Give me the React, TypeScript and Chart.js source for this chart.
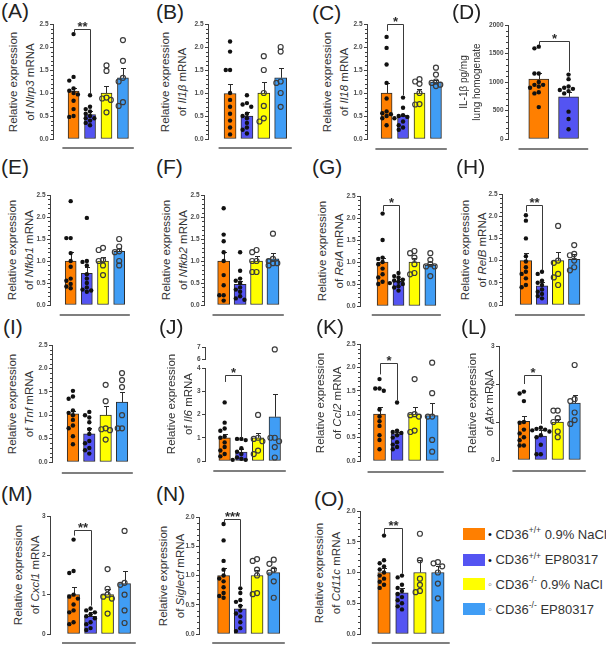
import React, { useEffect, useRef } from 'react';
import { Chart, registerables } from 'chart.js';
Chart.register(...registerables);

const FONT = '"Liberation Sans", Arial, Helvetica, sans-serif';
Chart.defaults.font.family = FONT;

// ---------- groups ----------
const groupLabels = ['CD36+/+ 0.9% NaCl', 'CD36+/+ EP80317', 'CD36-/- 0.9% NaCl', 'CD36-/- EP80317'];
const groupColors = ['#FF7F00', '#5454F2', '#FFFF00', '#409DF5'];

// ---------- (A) Nlrp3 ----------
const nlrp3Means = [1.04, 0.53, 1.0, 1.33];
const nlrp3ErrTop = [1.11, 0.6, 1.15, 1.55];
const nlrp3Points = [
  [2.28, 1.35, 1.27, 1.1, 1.05, 1.0, 0.97, 0.83, 0.65, 0.5, 0.48],
  [0.95, 0.7, 0.65, 0.6, 0.55, 0.5, 0.45, 0.45, 0.4, 0.35, 0.3],
  [1.6, 1.48, 0.9, 0.88, 0.85, 0.58],
  [2.15, 1.7, 1.33, 1.25, 0.8, 0.72],
];
const nlrp3Sig = [2.4, 2.3, 1.0];

// ---------- (B) Il1b ----------
const il1bMeans = [0.99, 0.5, 1.0, 1.33];
const il1bErrTop = [1.2, 0.58, 1.23, 1.55];
const il1bPoints = [
  [2.12, 1.9, 1.5, 1.5, 1.0, 0.85, 0.7, 0.55, 0.4, 0.25, 0.1],
  [0.95, 0.78, 0.75, 0.7, 0.55, 0.5, 0.45, 0.35, 0.25, 0.2, 0.12],
  [1.8, 1.5, 1.0, 0.72, 0.45, 0.38],
  [2.0, 1.9, 1.25, 1.22, 1.0, 0.7],
];

// ---------- (C) Il18 ----------
const il18Means = [1.0, 0.5, 1.0, 1.24];
const il18ErrTop = [1.22, 0.53, 1.08, 1.29];
const il18Points = [
  [2.22, 1.98, 1.62, 1.22, 0.88, 0.6, 0.56, 0.54, 0.5, 0.45, 0.3],
  [0.9, 0.68, 0.52, 0.5, 0.48, 0.45, 0.38, 0.3, 0.25, 0.2],
  [1.3, 1.25, 1.2, 1.0, 0.76, 0.75],
  [1.55, 1.4, 1.25, 1.22, 1.18, 1.15],
];
const il18Sig = [2.5, 2.35, 0.95];

// ---------- (D) IL-1beta protein ----------
const il1bProtMeans = [1050, 740];
const il1bProtErrTop = [1150, 820];
const il1bProtPoints = [
  [1620, 1590, 1150, 1150, 1000, 950, 950, 920, 900, 820, 800, 560],
  [1130, 1050, 920, 900, 880, 860, 840, 800, 480, 350, 170],
];
const il1bProtSig = [1720, 1650, 1180];

// ---------- (E) Nfkb1 ----------
const nfkb1Means = [1.0, 0.72, 1.0, 1.22];
const nfkb1ErrTop = [1.2, 0.87, 1.1, 1.3];
const nfkb1Points = [
  [2.36, 1.52, 1.52, 1.18, 1.0, 0.87, 0.6, 0.55, 0.48, 0.42, 0.38],
  [1.98, 1.0, 0.98, 0.9, 0.7, 0.6, 0.5, 0.4, 0.35, 0.33, 0.3],
  [1.3, 1.25, 1.02, 1.0, 0.9, 0.68],
  [1.5, 1.33, 1.22, 1.2, 1.0, 0.9],
];

// ---------- (F) Nfkb2 ----------
const nfkb2Means = [1.0, 0.47, 1.0, 1.05];
const nfkb2ErrTop = [1.2, 0.55, 1.12, 1.18];
const nfkb2Points = [
  [2.2, 1.6, 1.45, 1.2, 1.0, 0.68, 0.45, 0.22, 0.22, 0.1],
  [1.2, 0.78, 0.6, 0.55, 0.5, 0.4, 0.35, 0.3, 0.2, 0.15, 0.12],
  [1.25, 1.2, 1.0, 1.0, 0.75, 0.75],
  [1.62, 1.05, 1.0, 0.95, 0.95, 0.9],
];

// ---------- (G) RelA ----------
const relaMeans = [1.0, 0.56, 1.0, 0.93];
const relaErrTop = [1.08, 0.62, 1.08, 0.96];
const relaPoints = [
  [2.1, 1.5, 1.1, 1.07, 1.0, 0.95, 0.85, 0.72, 0.65, 0.55, 0.5],
  [0.75, 0.68, 0.65, 0.6, 0.58, 0.55, 0.52, 0.5, 0.45, 0.42, 0.35],
  [1.25, 1.2, 1.1, 0.95, 0.75, 0.72],
  [1.2, 1.05, 0.95, 0.9, 0.9, 0.68],
];
const relaSig = [2.3, 2.15, 0.78];

// ---------- (H) RelB ----------
const relbMeans = [1.0, 0.43, 1.0, 1.03];
const relbErrTop = [1.18, 0.52, 1.2, 1.15];
const relbPoints = [
  [2.02, 1.9, 1.5, 1.1, 0.98, 0.85, 0.75, 0.7, 0.6, 0.45, 0.4],
  [0.75, 0.7, 0.55, 0.5, 0.45, 0.35, 0.3, 0.25, 0.2, 0.15],
  [1.78, 1.0, 0.95, 0.7, 0.62, 0.45],
  [1.35, 1.15, 1.12, 1.0, 0.85, 0.78],
];
const relbSig = [2.25, 2.1, 0.78];

// ---------- (I) Tnf ----------
const tnfMeans = [1.03, 0.6, 1.0, 1.28];
const tnfErrTop = [1.1, 0.72, 1.2, 1.5];
const tnfPoints = [
  [1.52, 1.4, 1.35, 1.1, 1.05, 1.0, 0.9, 0.78, 0.72, 0.55, 0.38],
  [1.07, 1.0, 0.95, 0.85, 0.7, 0.6, 0.45, 0.4, 0.3, 0.25, 0.18],
  [1.65, 1.3, 0.72, 0.7, 0.68, 0.48],
  [1.9, 1.75, 1.6, 1.0, 0.72, 0.72],
];

// ---------- (J) Il6 (broken axis) ----------
const il6Means = [1.0, 0.38, 1.0, 1.9];
const il6ErrTop = [1.15, 0.5, 1.2, 2.9];
const il6Points = [
  [2.52, 1.65, 1.4, 1.3, 1.05, 1.0, 0.8, 0.6, 0.45, 0.3, 0.2],
  [0.95, 0.95, 0.9, 0.55, 0.4, 0.3, 0.15, 0.1, 0.05, 0.05],
  [1.98, 1.0, 0.95, 0.85, 0.45, 0.3],
  [6.8, 1.0, 1.0, 0.85, 0.6, 0.15],
];
const il6Sig = [3.7, 3.4, 1.0];

// ---------- (K) Ccl2 ----------
const ccl2Means = [1.0, 0.58, 1.0, 0.97];
const ccl2ErrTop = [1.15, 0.63, 1.15, 1.25];
const ccl2Points = [
  [1.75, 1.55, 1.55, 1.5, 1.1, 0.95, 0.85, 0.75, 0.55, 0.45, 0.25],
  [1.25, 0.65, 0.62, 0.6, 0.55, 0.5, 0.4, 0.35, 0.3, 0.25],
  [1.75, 1.0, 0.98, 0.95, 0.65, 0.62],
  [2.1, 1.45, 0.95, 0.95, 0.45, 0.2],
];
const ccl2Sig = [2.1, 1.85, 1.3];

// ---------- (L) Atx ----------
const atxMeans = [1.02, 0.63, 1.0, 1.5];
const atxErrTop = [1.15, 0.8, 1.08, 1.72];
const atxPoints = [
  [1.8, 1.75, 1.55, 1.0, 0.98, 0.8, 0.7, 0.6, 0.52, 0.38, 0.38],
  [0.85, 0.82, 0.8, 0.78, 0.75, 0.65, 0.6, 0.4, 0.15, 0.15],
  [1.3, 1.3, 1.1, 1.0, 0.75, 0.6],
  [2.5, 1.6, 1.55, 1.25, 1.05, 0.95],
];
const atxSig = [2.25, 2.0, 0.95];

// ---------- (M) Cxcl1 ----------
const cxcl1Means = [1.0, 0.45, 1.0, 1.28];
const cxcl1ErrTop = [1.2, 0.55, 1.15, 1.6];
const cxcl1Points = [
  [2.4, 1.6, 1.55, 1.0, 0.95, 0.9, 0.75, 0.6, 0.55, 0.3, 0.25],
  [0.65, 0.6, 0.55, 0.5, 0.45, 0.4, 0.3, 0.25, 0.15, 0.1],
  [1.65, 1.15, 1.0, 0.95, 0.9, 0.52],
  [2.62, 1.3, 1.25, 1.0, 0.6, 0.28],
];
const cxcl1Sig = [2.65, 2.5, 0.72];

// ---------- (N) Siglecf ----------
const siglecfMeans = [1.0, 0.43, 1.0, 1.05];
const siglecfErrTop = [1.12, 0.5, 1.1, 1.12];
const siglecfPoints = [
  [1.88, 1.6, 1.25, 1.1, 1.0, 0.95, 0.9, 0.8, 0.7, 0.65, 0.62],
  [0.78, 0.7, 0.58, 0.55, 0.48, 0.4, 0.35, 0.3, 0.2, 0.1, 0.05],
  [1.28, 1.25, 1.1, 1.0, 0.7, 0.68],
  [1.27, 1.2, 1.1, 1.05, 0.9, 0.62],
];
const siglecfSig = [1.97, 1.9, 0.8];

// ---------- (O) Cd11c ----------
const cd11cMeans = [1.0, 0.67, 1.0, 1.0];
const cd11cErrTop = [1.07, 0.75, 1.2, 1.1];
const cd11cPoints = [
  [1.6, 1.2, 1.15, 1.1, 1.05, 1.0, 0.95, 0.9, 0.85, 0.8, 0.75],
  [0.95, 0.92, 0.8, 0.75, 0.7, 0.65, 0.6, 0.55, 0.5, 0.45, 0.4],
  [1.63, 1.2, 0.9, 0.8, 0.7, 0.68],
  [1.17, 1.15, 1.1, 1.0, 0.82, 0.58],
];
const cd11cSig = [1.72, 1.62, 0.98];

// ---------- layout ----------
const AW = 26, PT = 26, PB = 16;

type Cfg = any;

const panels: Cfg[] = [
  { letter: '(A)', lx: 2, ly: 2, gene: 'Nlrp3', ax: 53, yTop: 24, y0: 139, c0: 74, s: 16.8, bw: 11, gap: 9, tx: 20.5, max: 2.5, step: 0.5, minor: 0.1, dec: 1, means: nlrp3Means, err: nlrp3ErrTop, pts: nlrp3Points, sig: nlrp3Sig, stars: '**' },
  { letter: '(B)', lx: 157, ly: 3, gene: 'Il1β', ax: 208, yTop: 24, y0: 139, c0: 230.5, s: 17.2, bw: 12, gap: 9, tx: 172.5, max: 2.5, step: 0.5, minor: 0.1, dec: 1, means: il1bMeans, err: il1bErrTop, pts: il1bPoints },
  { letter: '(C)', lx: 313, ly: 4, gene: 'Il18', ax: 367, yTop: 24, y0: 139, c0: 387, s: 16.8, bw: 11, gap: 10, tx: 334.5, max: 2.5, step: 0.5, minor: 0.1, dec: 1, means: il18Means, err: il18ErrTop, pts: il18Points, sig: il18Sig, stars: '*' },
  { letter: '(D)', lx: 453, ly: 3, custom: ['IL-1β pg/mg', 'lung homogenate'], ts: 10, lh: 13, ax: 508, yTop: 25, y0: 139, c0: 539, s: 30, bw: 20, gap: 10, tx: 469.5, max: 2000, step: 500, minor: 100, dec: 0, means: il1bProtMeans, err: il1bProtErrTop, pts: il1bProtPoints, sig: il1bProtSig, stars: '*' },
  { letter: '(E)', lx: 2, ly: 158, gene: 'Nfkb1', ax: 50, yTop: 195, y0: 305, c0: 71, s: 16.4, bw: 11, gap: 10, tx: 19.5, max: 2.5, step: 0.5, minor: 0.1, dec: 1, means: nfkb1Means, err: nfkb1ErrTop, pts: nfkb1Points },
  { letter: '(F)', lx: 157, ly: 158, gene: 'Nfkb2', ax: 204, yTop: 195, y0: 305, c0: 224, s: 16.7, bw: 12, gap: 10, tx: 174, max: 2.5, step: 0.5, minor: 0.1, dec: 1, means: nfkb2Means, err: nfkb2ErrTop, pts: nfkb2Points },
  { letter: '(G)', lx: 313, ly: 158, gene: 'RelA', ax: 360, yTop: 196, y0: 306, c0: 383, s: 16.2, bw: 11, gap: 9, tx: 329.5, max: 2.5, step: 0.5, minor: 0.1, dec: 1, means: relaMeans, err: relaErrTop, pts: relaPoints, sig: relaSig, stars: '*' },
  { letter: '(H)', lx: 457, ly: 158, gene: 'RelB', ax: 502, yTop: 194, y0: 305, c0: 526.5, s: 16.5, bw: 11.5, gap: 10, tx: 472.5, max: 2.5, step: 0.5, minor: 0.1, dec: 1, means: relbMeans, err: relbErrTop, pts: relbPoints, sig: relbSig, stars: '**' },
  { letter: '(I)', lx: 4, ly: 318, gene: 'Tnf', ax: 52, yTop: 345, y0: 462, c0: 73.5, s: 16.8, bw: 11.5, gap: 11, tx: 19.5, max: 2.5, step: 0.5, minor: 0.1, dec: 1, means: tnfMeans, err: tnfErrTop, pts: tnfPoints },
  { letter: '(J)', lx: 160, ly: 318, gene: 'Il6', ax: 205, yTop: 347, y0: 461, c0: 225, s: 17, bw: 11.5, gap: 10, tx: 179, max: 4, step: 1, minor: 0, dec: 0, broken: { lower: 93, gapW: 9, upper: 12, upMin: 6, upMax: 7 }, means: il6Means, err: il6ErrTop, pts: il6Points, sig: il6Sig, stars: '*' },
  { letter: '(K)', lx: 317, ly: 318, gene: 'Ccl2', ax: 360, yTop: 344, y0: 461, c0: 380, s: 18, bw: 12, gap: 11, tx: 327.5, max: 2.5, step: 0.5, minor: 0.1, dec: 1, means: ccl2Means, err: ccl2ErrTop, pts: ccl2Points, sig: ccl2Sig, stars: '*' },
  { letter: '(L)', lx: 462, ly: 318, gene: 'Atx', ax: 499, yTop: 346, y0: 460, c0: 524.5, s: 17.3, bw: 11.5, gap: 11, tx: 479.5, max: 3, step: 1, minor: 0, dec: 0, means: atxMeans, err: atxErrTop, pts: atxPoints, sig: atxSig, stars: '*' },
  { letter: '(M)', lx: 2, ly: 485, gene: 'Cxcl1', ax: 50, yTop: 516, y0: 634, c0: 74, s: 17.3, bw: 12, gap: 9, tx: 26, max: 3, step: 1, minor: 0, dec: 0, means: cxcl1Means, err: cxcl1ErrTop, pts: cxcl1Points, sig: cxcl1Sig, stars: '**' },
  { letter: '(N)', lx: 157, ly: 485, gene: 'Siglecf', ax: 199, yTop: 517, y0: 634, c0: 224, s: 17, bw: 12, gap: 9, tx: 170.5, max: 2, step: 0.5, minor: 0.1, dec: 1, means: siglecfMeans, err: siglecfErrTop, pts: siglecfPoints, sig: siglecfSig, stars: '***' },
  { letter: '(O)', lx: 315, ly: 490, gene: 'Cd11c', ax: 360, yTop: 511, y0: 634, c0: 384.5, s: 18.3, bw: 12.5, gap: 9, tx: 327, max: 2, step: 0.5, minor: 0.1, dec: 1, means: cd11cMeans, err: cd11cErrTop, pts: cd11cPoints, sig: cd11cSig, stars: '**' },
];

// simple beeswarm: horizontal spread for points that would overlap (layout only)
function swarm(vals: number[], pxPerUnit: number, s: number) {
  const order = vals.map((v, i) => [v, i]).sort((a, b) => b[0] - a[0]);
  const d = 4.4;
  const cands = [0, -1, 1, -2, 2, -0.5, 0.5, -1.5, 1.5, -2.5, 2.5];
  const placed: { x: number; y: number }[] = [];
  const res: number[] = new Array(vals.length).fill(0);
  for (const [v, i] of order) {
    const yp = v * pxPerUnit;
    let chosen = cands[cands.length - 1] * d;
    for (const c of cands) {
      const xp = c * d;
      if (placed.every((p) => Math.hypot(p.x - xp, p.y - yp) >= d - 0.01)) { chosen = xp; break; }
    }
    placed.push({ x: chosen, y: yp });
    res[i] = chosen / s;
  }
  return res;
}

function yScale(min: number, max: number, step: number, dec: number, extra: any = {}) {
  return {
    type: 'linear', position: 'left', min, max,
    border: { display: true, color: '#404040', width: 1 },
    grid: { display: true, drawOnChartArea: false, drawTicks: true, tickLength: 3, tickColor: '#404040', tickWidth: 1 },
    ticks: {
      stepSize: step, autoSkip: false, padding: 1.5, color: '#4a4a4a',
      font: { size: 6.5, weight: 'bold', family: FONT },
      callback: (v: any) => Number(v).toFixed(dec),
    },
    afterFit: (sc: any) => { sc.width = AW; },
    ...extra,
  };
}

function Panel({ c }: { c: Cfg }) {
  const ref = useRef<HTMLCanvasElement>(null);
  const n = c.means.length;
  const xmin = -(c.c0 - c.ax) / c.s;
  const xmax = n - 1 + 0.72;
  const areaW = (xmax - xmin) * c.s;
  const W = Math.ceil(AW + areaW + 3);
  const padR = W - AW - areaW;
  const H = PT + (c.y0 - c.yTop) + PB;
  const left = c.ax - AW;
  const top = c.yTop - PT;

  useEffect(() => {
    const br = c.broken;
    const lowerPx = br ? br.lower : c.y0 - c.yTop;
    const pxPerUnit = lowerPx / c.max;
    const datasets: any[] = [
      {
        type: 'bar', xAxisID: 'x', yAxisID: 'y', order: 3,
        data: c.means.map((m: number, i: number) => ({ x: i, y: m })),
        backgroundColor: groupColors.slice(0, n),
        borderColor: '#2b2b2b', borderWidth: 1, borderSkipped: false,
        barThickness: c.bw,
      },
    ];
    c.pts.forEach((vals: number[], gi: number) => {
      const low = br ? vals.filter((v) => v <= c.max) : vals;
      const high = br ? vals.filter((v) => v > c.max) : [];
      const offs = swarm(low, pxPerUnit, c.s);
      const style = gi < 2
        ? { pointRadius: 2.2, pointBackgroundColor: '#111', pointBorderColor: '#111', pointBorderWidth: 0 }
        : { pointRadius: 2.5, pointBackgroundColor: 'rgba(255,255,255,0)', pointBorderColor: '#3c3c3c', pointBorderWidth: 1.2 };
      datasets.push({
        type: 'scatter', xAxisID: 'x', yAxisID: 'y', order: 1, clip: false,
        data: low.map((v, k) => ({ x: gi + offs[k], y: v })), ...style,
      });
      if (high.length) {
        datasets.push({
          type: 'scatter', xAxisID: 'x', yAxisID: 'yUp', order: 1, clip: false,
          data: high.map((v) => ({ x: gi, y: v })), ...style,
        });
      }
    });

    const scales: any = { x: { type: 'linear', min: xmin, max: xmax, display: false, offset: false } };
    if (br) {
      scales.y = yScale(0, c.max, c.step, c.dec, { stack: 'brk', stackWeight: br.lower });
      scales.yGap = {
        type: 'linear', position: 'left', stack: 'brk', stackWeight: br.gapW, display: true,
        border: { display: false }, grid: { display: false }, ticks: { display: false },
        afterFit: (sc: any) => { sc.width = AW; },
      };
      scales.yUp = yScale(br.upMin, br.upMax, 1, 0, { stack: 'brk', stackWeight: br.upper });
    } else {
      scales.y = yScale(0, c.max, c.step, c.dec);
    }

    const deco = {
      id: 'deco',
      afterDatasetDraw(chart: any, args: any) {
        if (args.index !== 0) return;
        const ctx = chart.ctx, xs = chart.scales.x, ys = chart.scales.y;
        ctx.save();
        ctx.strokeStyle = '#2b2b2b';
        ctx.lineWidth = 1;
        c.means.forEach((m: number, i: number) => {
          const px = Math.round(xs.getPixelForValue(i)) + 0.5;
          const yb = ys.getPixelForValue(m);
          const yt = Math.round(ys.getPixelForValue(c.err[i])) + 0.5;
          ctx.beginPath();
          ctx.moveTo(px, yb); ctx.lineTo(px, yt);
          ctx.moveTo(px - 2.5, yt); ctx.lineTo(px + 2.5, yt);
          ctx.stroke();
        });
        ctx.restore();
      },
      afterDraw(chart: any) {
        const ctx = chart.ctx, xs = chart.scales.x, ys = chart.scales.y, ca = chart.chartArea;
        ctx.save();
        if (c.minor) {
          ctx.strokeStyle = '#404040';
          ctx.lineWidth = 1;
          const cnt = Math.round(c.max / c.minor);
          for (let k = 1; k < cnt; k++) {
            const v = k * c.minor;
            const r = v / c.step;
            if (Math.abs(r - Math.round(r)) < 1e-6) continue;
            const py = Math.round(ys.getPixelForValue(v)) + 0.5;
            ctx.beginPath();
            ctx.moveTo(ca.left - 2, py); ctx.lineTo(ca.left, py);
            ctx.stroke();
          }
        }
        ctx.strokeStyle = '#555';
        ctx.lineWidth = 1.6;
        const ly = Math.round(ys.getPixelForValue(0)) + c.gap;
        ctx.beginPath();
        ctx.moveTo(xs.getPixelForValue(-0.68), ly);
        ctx.lineTo(xs.getPixelForValue(n - 1 + 0.66), ly);
        ctx.stroke();
        if (c.sig) {
          const [yb, yl, yr] = c.sig;
          const x0 = Math.round(xs.getPixelForValue(0)) + 0.5;
          const x1 = Math.round(xs.getPixelForValue(1)) + 0.5;
          const pyb = Math.round(ys.getPixelForValue(yb)) + 0.5;
          ctx.strokeStyle = '#3a3a3a';
          ctx.lineWidth = 1;
          ctx.beginPath();
          ctx.moveTo(x0, ys.getPixelForValue(yl));
          ctx.lineTo(x0, pyb);
          ctx.lineTo(x1, pyb);
          ctx.lineTo(x1, ys.getPixelForValue(yr));
          ctx.stroke();
          ctx.fillStyle = '#2b2b2b';
          ctx.font = 'bold 13px ' + FONT;
          ctx.textAlign = 'center';
          ctx.textBaseline = 'alphabetic';
          ctx.fillText(c.stars, (x0 + x1) / 2, pyb + 1);
        }
        ctx.restore();
      },
    };

    const chart = new Chart(ref.current as HTMLCanvasElement, {
      type: 'bar',
      data: { datasets },
      options: {
        animation: false,
        responsive: false,
        devicePixelRatio: 1,
        events: [],
        layout: { padding: { top: PT, bottom: PB, left: 0, right: padR } },
        plugins: { legend: { display: false }, tooltip: { enabled: false } },
        scales,
      } as any,
      plugins: [deco as any],
    } as any);
    return () => chart.destroy();
  }, []);

  const ts = c.ts || 11.5;
  const lh = c.lh || 16.5;
  const line1 = c.custom ? c.custom[0] : 'Relative expression';
  const line2 = c.custom ? c.custom[1] : (<>of <i>{c.gene}</i> mRNA</>);

  return (
    <>
      <div style={{ position: 'absolute', left: c.lx - 1, top: c.ly - 2.5, fontSize: 21, lineHeight: '21px', color: '#222', fontFamily: FONT, whiteSpace: 'nowrap' }}>{c.letter}</div>
      <div style={{ position: 'absolute', left: c.tx, top: (c.yTop + c.y0) / 2, transform: 'translate(-50%, -50%) rotate(-90deg)', fontSize: ts, lineHeight: lh + 'px', textAlign: 'center', whiteSpace: 'nowrap', color: '#333', fontFamily: FONT }}>
        <div>{line1}</div>
        <div>{line2}</div>
      </div>
      <canvas ref={ref} width={W} height={H} style={{ position: 'absolute', left, top, width: W, height: H }} />
    </>
  );
}

const legendRows = [
  { bullet: '•', bc: '#111', sup: '+/+', rest: ' 0.9% NaCl' },
  { bullet: '•', bc: '#111', sup: '+/+', rest: ' EP80317' },
  { bullet: '◦', bc: '#777', sup: '-/-', rest: ' 0.9% NaCl' },
  { bullet: '◦', bc: '#777', sup: '-/-', rest: ' EP80317' },
];
const legendCenters = [534, 559.5, 584, 609];

export default function App() {
  return (
    <div style={{ position: 'fixed', left: 0, top: 0, width: 606, height: 646, overflow: 'hidden', background: '#fff', fontFamily: FONT }}>
      {panels.map((p) => <Panel key={p.letter} c={p} />)}
      {legendRows.map((r, i) => (
        <div key={i} title={groupLabels[i]} style={{ position: 'absolute', left: 463, top: legendCenters[i] - 9, height: 18, display: 'flex', alignItems: 'center', whiteSpace: 'nowrap', fontSize: 13, color: '#333' }}>
          <span style={{ display: 'inline-block', width: 22, height: 12, background: groupColors[i], marginRight: 3 }} />
          <span style={{ color: r.bc, fontSize: 11 }}>{r.bullet}</span>
          <span>&nbsp;CD36<span style={{ fontSize: 8.5, position: 'relative', top: -5.5 }}>{r.sup}</span>{r.rest}</span>
        </div>
      ))}
    </div>
  );
}
